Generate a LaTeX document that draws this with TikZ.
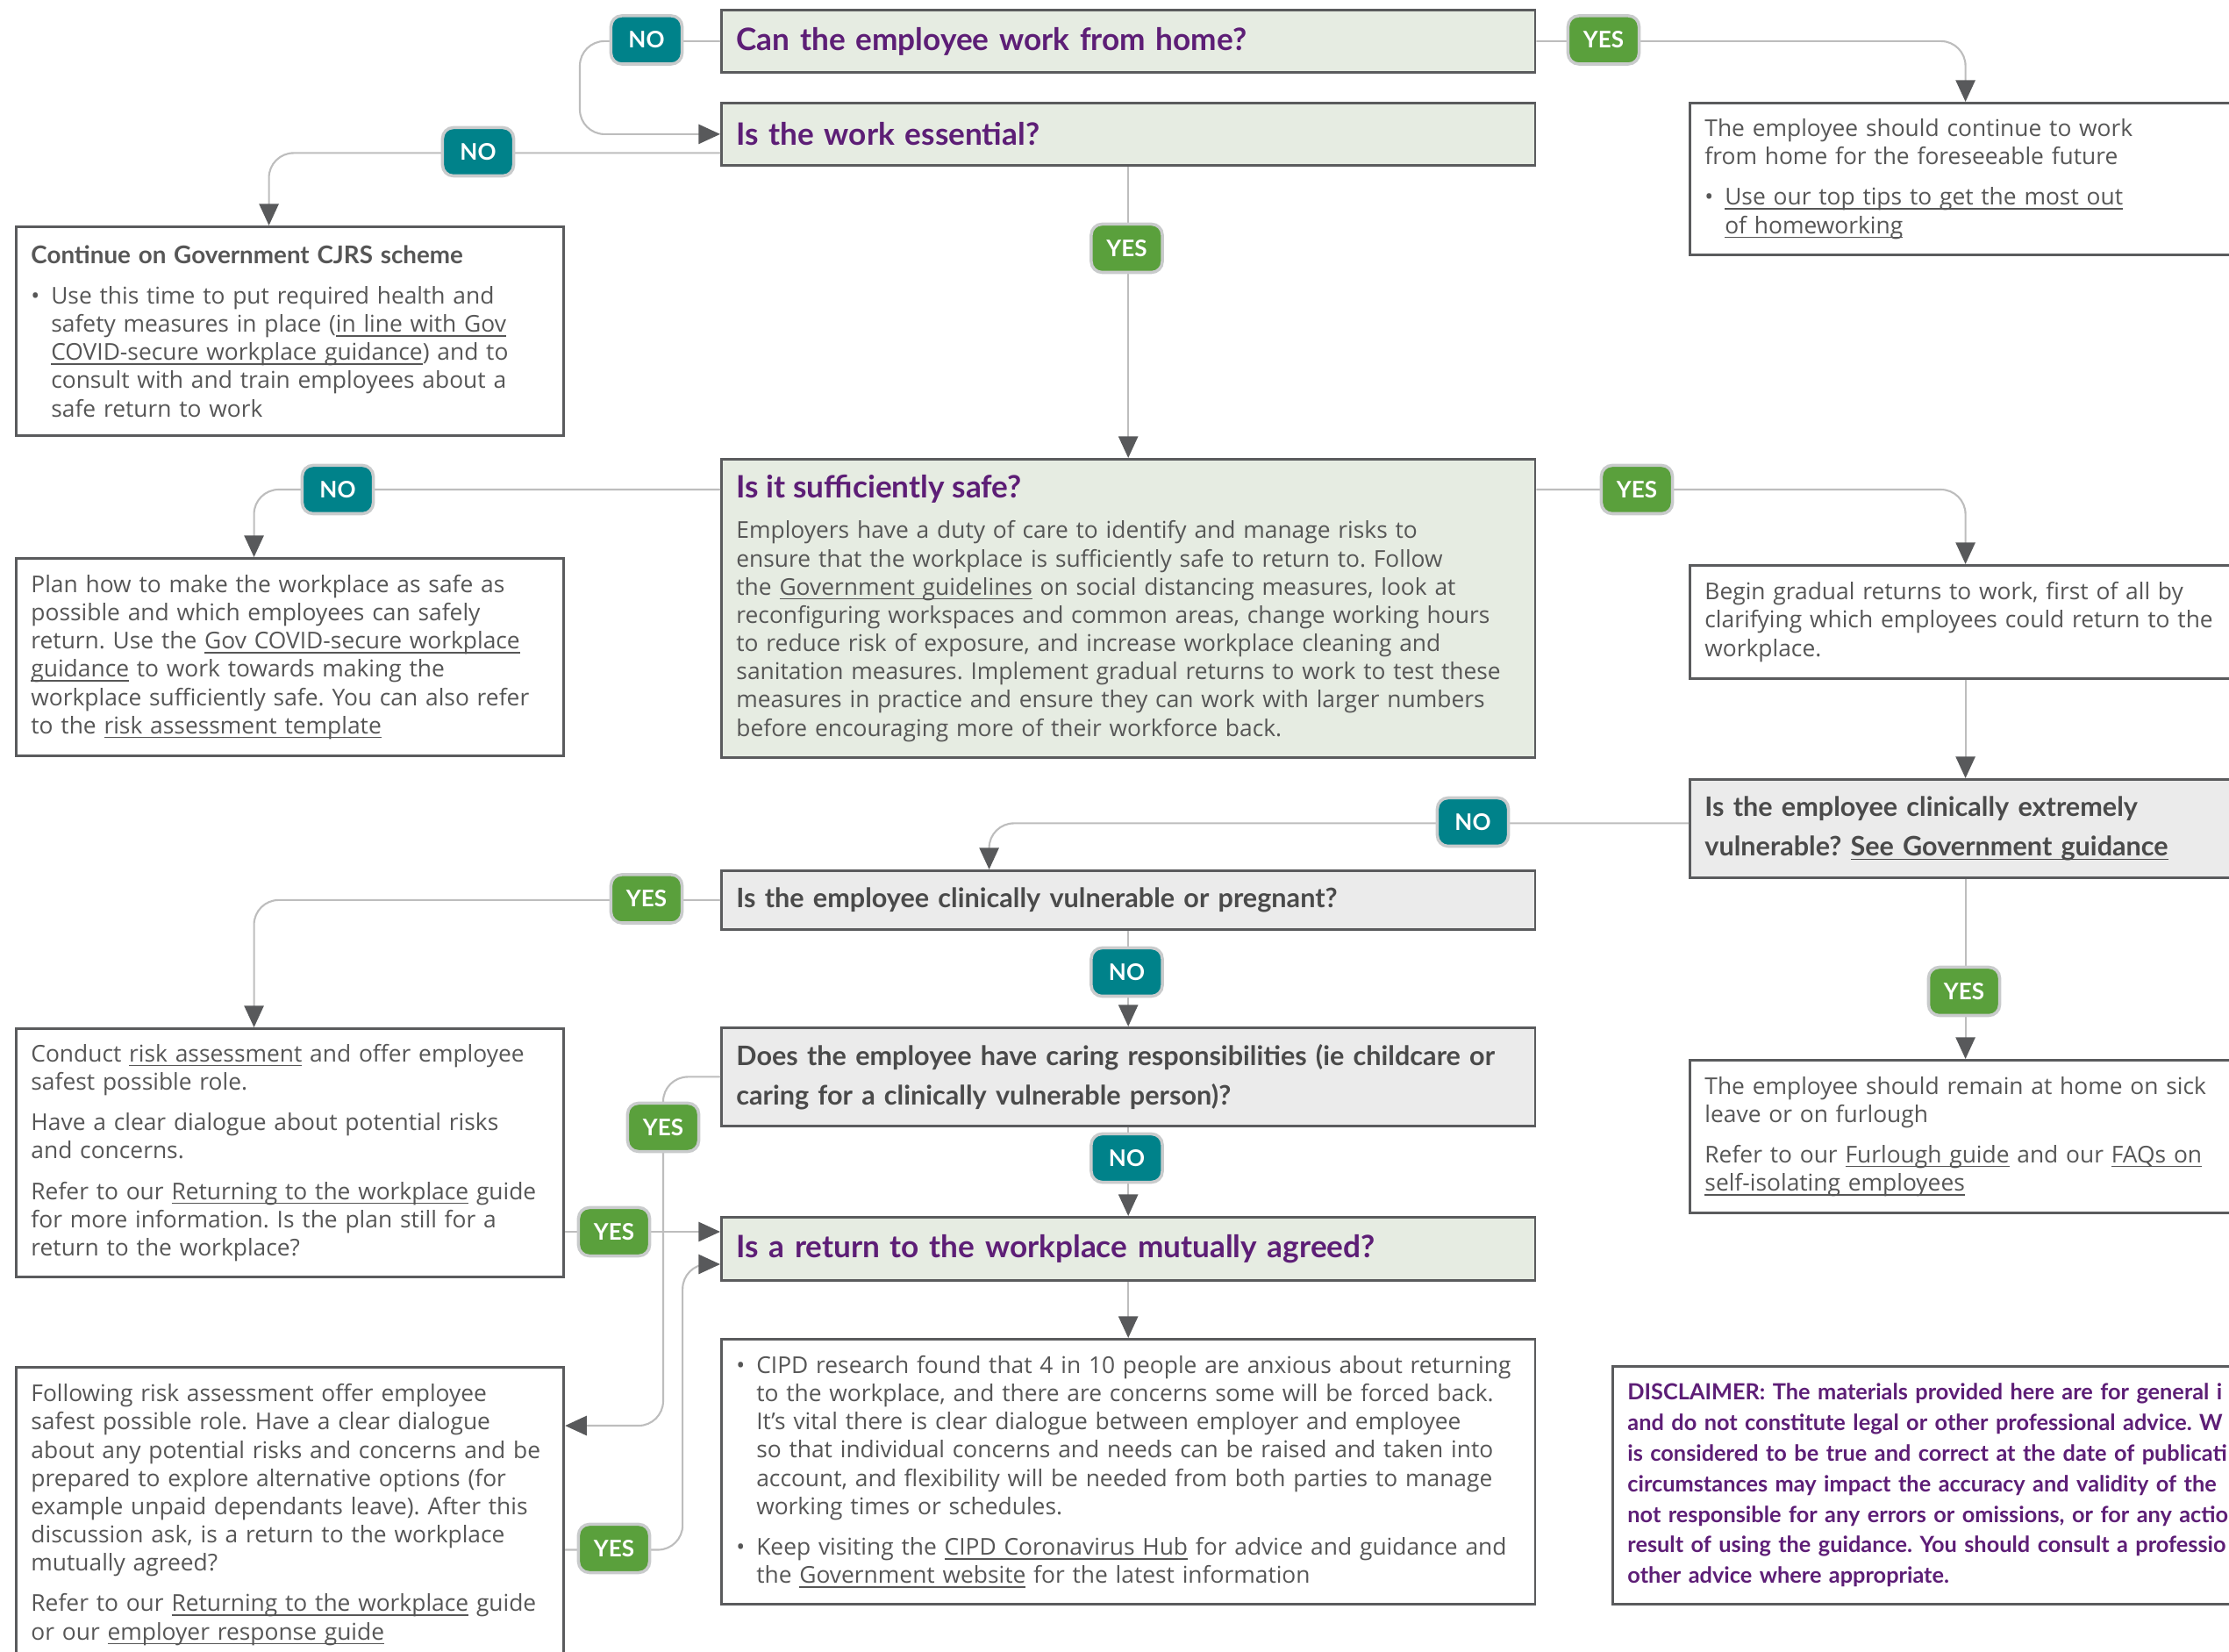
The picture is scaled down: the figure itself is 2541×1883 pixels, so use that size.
\documentclass[tikz,border=0pt]{standalone}
\usepackage{fontspec}
\setmainfont{Lato}
\newfontfamily\bodyfont{Open Sans}
\usetikzlibrary{arrows.meta, positioning, calc}
\frenchspacing

\definecolor{cipdpurple}{HTML}{5D1E76}
\definecolor{bodygray}{HTML}{565656}
\definecolor{questgray}{HTML}{4A4A4A}
\definecolor{boxgray}{HTML}{5A5B5D}
\definecolor{linegray}{HTML}{BDBDBD}
\definecolor{tipgray}{HTML}{58595B}
\definecolor{qfill}{HTML}{E6ECE2}
\definecolor{greyfill}{HTML}{EBEBEB}
\definecolor{noteal}{HTML}{00828A}
\definecolor{yesgreen}{HTML}{5AA03C}
\definecolor{badgerim}{HTML}{C9CBCC}

\newcommand{\lnk}[1]{\leavevmode\setbox0=\hbox{#1}\rlap{\rule[-1.4pt]{\wd0}{0.4pt}}\box0\relax}
\newcommand{\bitem}{\makebox[6.5pt][l]{\textbullet}}
\newcommand{\bcont}{\hspace*{6.5pt}}

\begin{document}
\begin{tikzpicture}[x=0.01cm, y=-0.01cm,
    infobox/.style={draw=boxgray, line width=0.8pt, anchor=north west, inner xsep=0.17cm, inner ysep=0pt, align=left, text=bodygray, font=\bodyfont\fontsize{7.5}{9.15}\selectfont},
    leftbox/.style={infobox, minimum width=6.24cm, text width=5.9cm},
    rightbox/.style={infobox, minimum width=6.28cm, text width=5.94cm},
    midbox/.style={infobox, minimum width=9.27cm, text width=8.93cm},
    qgreen/.style={midbox, fill=qfill, text=cipdpurple, font=\fontsize{10}{12}\selectfont\bfseries},
    qgrey/.style={fill=greyfill, text=questgray, font=\fontsize{8.7}{12.8}\selectfont\bfseries},
    flow/.style={draw=linegray, line width=0.6pt, rounded corners=8pt, -{Triangle[width=6.3pt, length=7pt, color=tipgray]}},
    badge/.style={draw=badgerim, line width=1pt, rounded corners=3.5pt, minimum width=0.81cm, minimum height=0.55cm, inner sep=0pt, text=white, font=\fontsize{7.4}{8}\selectfont\bfseries},
    nobadge/.style={badge, fill=noteal},
    yesbadge/.style={badge, fill=yesgreen}]
    \useasboundingbox (0,0) rectangle (2541,1883);

    % middle column
    \node[qgreen, minimum height=0.71cm] (home) at (821,10) {Can the employee work from home?};
    \node[qgreen, minimum height=0.71cm] (ess) at (821,116) {Is the work essential?};
    \node[midbox, fill=qfill, minimum height=3.40cm] (safe) at (821,522) {{\color{cipdpurple}\normalfont\fontsize{10}{12}\selectfont\bfseries Is it sufficiently safe?}\\[4pt]
        Employers have a duty of care to identify and manage risks to\\
        ensure that the workplace is sufficiently safe to return to. Follow\\
        the \lnk{Government guidelines} on social distancing measures, look at\\
        reconfiguring workspaces and common areas, change working hours\\
        to reduce risk of exposure, and increase workplace cleaning and\\
        sanitation measures. Implement gradual returns to work to test these\\
        measures in practice and ensure they can work with larger numbers\\
        before encouraging more of their workforce back.};
    \node[midbox, qgrey, minimum height=0.67cm] (vuln) at (821,991) {Is the employee clinically vulnerable or pregnant?};
    \node[midbox, qgrey, minimum height=1.12cm] (caring) at (821,1170) {Does the employee have caring responsibilities (ie childcare or\\
        caring for a clinically vulnerable person)?};
    \node[qgreen, minimum height=0.72cm] (agreed) at (821,1386) {Is a return to the workplace mutually agreed?};
    \node[midbox, minimum height=3.02cm] (cipd) at (821,1525) {\bitem CIPD research found that 4 in 10 people are anxious about returning\\
        \bcont to the workplace, and there are concerns some will be forced back.\\
        \bcont It’s vital there is clear dialogue between employer and employee\\
        \bcont so that individual concerns and needs can be raised and taken into\\
        \bcont account, and flexibility will be needed from both parties to manage\\
        \bcont working times or schedules.\\[4pt]
        \bitem Keep visiting the \lnk{CIPD Coronavirus Hub} for advice and guidance and\\
        \bcont the \lnk{Government website} for the latest information};

    % left column
    \node[leftbox, minimum height=2.38cm] (cjrs) at (17,257) {{\normalfont\fontsize{7.9}{9.15}\selectfont\bfseries Continue on Government CJRS scheme}\\[4pt]
        \bitem Use this time to put required health and\\
        \bcont safety measures in place (\lnk{in line with Gov}\\
        \bcont\lnk{COVID-secure workplace guidance}) and to\\
        \bcont consult with and train employees about a\\
        \bcont safe return to work};
    \node[leftbox, minimum height=2.25cm] (plan) at (17,635) {Plan how to make the workplace as safe as\\
        possible and which employees can safely\\
        return. Use the \lnk{Gov COVID-secure workplace}\\
        \lnk{guidance} to work towards making the\\
        workplace sufficiently safe. You can also refer\\
        to the \lnk{risk assessment template}};
    \node[leftbox, minimum height=2.83cm] (conduct) at (17,1171) {Conduct \lnk{risk assessment} and offer employee\\
        safest possible role.\\[4pt]
        Have a clear dialogue about potential risks\\
        and concerns.\\[4pt]
        Refer to our \lnk{Returning to the workplace} guide\\
        for more information. Is the plan still for a\\
        return to the workplace?};
    \node[leftbox, minimum height=3.36cm] (follow) at (17,1557) {Following risk assessment offer employee\\
        safest possible role. Have a clear dialogue\\
        about any potential risks and concerns and be\\
        prepared to explore alternative options (for\\
        example unpaid dependants leave). After this\\
        discussion ask, is a return to the workplace\\
        mutually agreed?\\[4pt]
        Refer to our \lnk{Returning to the workplace} guide\\
        or our \lnk{employer response guide}};

    % right column
    \node[rightbox, minimum height=1.73cm] (wfh) at (1925,116) {The employee should continue to work\\
        from home for the foreseeable future\\[4pt]
        \bitem\lnk{Use our top tips to get the most out}\\
        \bcont\lnk{of homeworking}};
    \node[rightbox, minimum height=1.29cm] (begin) at (1925,643) {Begin gradual returns to work, first of all by\\
        clarifying which employees could return to the\\
        workplace.};
    \node[rightbox, qgrey, minimum height=1.12cm] (cev) at (1925,887) {Is the employee clinically extremely\\
        vulnerable? \lnk{See Government guidance}};
    \node[rightbox, minimum height=1.74cm] (sick) at (1925,1207) {The employee should remain at home on sick\\
        leave or on furlough\\[4pt]
        Refer to our \lnk{Furlough guide} and our \lnk{FAQs on}\\
        \lnk{self-isolating employees}};
    \node[infobox, minimum width=7.4cm, text width=7.06cm, minimum height=2.71cm, text=cipdpurple, font=\fontsize{7.2}{9.9}\selectfont\bfseries] (disc) at (1837,1556) {DISCLAIMER: The materials provided here are for general i\\
        and do not constitute legal or other professional advice. W\\
        is considered to be true and correct at the date of publicati\\
        circumstances may impact the accuracy and validity of the\\
        not responsible for any errors or omissions, or for any actio\\
        result of using the guidance. You should consult a professio\\
        other advice where appropriate.};

    % connectors
    \coordinate (inA) at ([yshift=-0.18cm]agreed.north west);
    \coordinate (inB) at ([yshift=-0.55cm]agreed.north west);
    \draw[flow] (home.west) -- ++(-160,0) |- (ess.west);
    \draw[flow] (home.east) -| (wfh.north);
    \draw[flow] ([yshift=-0.215cm]ess.west) -| ([xshift=-0.24cm]cjrs.north);
    \draw[flow] (ess.south) -- (safe.north);
    \draw[flow] ([yshift=-0.36cm]safe.north west) -| ([xshift=-0.41cm]plan.north);
    \draw[flow] ([yshift=-0.36cm]safe.north east) -| (begin.north);
    \draw[flow] (begin.south) -- (cev.north);
    \draw[flow] ([yshift=0.06cm]cev.west) -| ([xshift=-1.585cm]vuln.north);
    \draw[flow] (vuln.west) -| ([xshift=-0.41cm]conduct.north);
    \draw[flow] (vuln.south) -- (caring.north);
    \draw[flow] (caring.south) -- (agreed.north);
    \draw[flow] (caring.west) -- ++(-65,0) |- ([yshift=-0.68cm]follow.north east);
    \draw[flow] (conduct.east |- inA) -- (inA);
    \draw[flow] ([yshift=-0.4cm]follow.east) -- ++(134,0) |- (inB);
    \draw[flow] (agreed.south) -- (cipd.north);
    \draw[flow] (cev.south) -- (sick.north);

    % badges
    \node[nobadge] (noHome) at (737,45.5) {NO};
    \node[yesbadge] (yesHome) at (1828,45.5) {YES};
    \node[nobadge] (noEss) at (545,173) {NO};
    \node[yesbadge] (yesEss) at (1284.5,283) {YES};
    \node[nobadge] (noSafe) at (385,558) {NO};
    \node[yesbadge] (yesSafe) at (1866,558) {YES};
    \node[nobadge] (noCev) at (1679,937) {NO};
    \node[yesbadge] (yesCev) at (2239,1130) {YES};
    \node[yesbadge] (yesVuln) at (737,1024.5) {YES};
    \node[nobadge] (noVuln) at (1284.5,1108) {NO};
    \node[nobadge] (noCaring) at (1284.5,1320) {NO};
    \node[yesbadge] (yesCaring) at (756,1285) {YES};
    \node[yesbadge] (yesConduct) at (700,1404) {YES};
    \node[yesbadge] (yesFollow) at (700,1765) {YES};
\end{tikzpicture}
\end{document}
